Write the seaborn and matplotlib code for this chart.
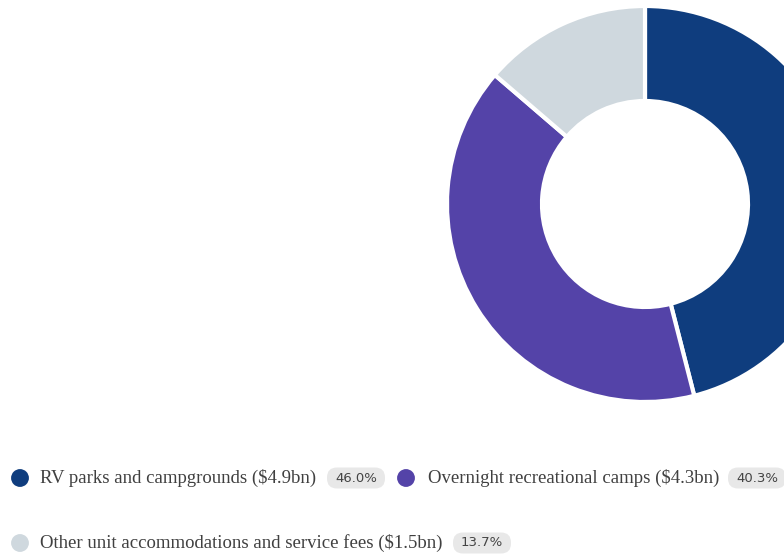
import matplotlib
matplotlib.use("Agg")
import matplotlib.pyplot as plt
from matplotlib.patches import FancyBboxPatch
import seaborn as sns

categories = ["RV parks and campgrounds", "Overnight recreational camps",
              "Other unit accommodations and service fees"]
revenue_bn = [4.9, 4.3, 1.5]
shares = [46.0, 40.3, 13.7]
colors = ["#0f3d7e", "#5443a8", "#cfd8de"]

sns.set_style("white")
plt.rcParams['font.family'] = ['Liberation Serif', 'DejaVu Serif']

W, H = 784, 554
fig = plt.figure(figsize=(W / 100, H / 100), dpi=100)
ax = fig.add_axes([0, 0, 1, 1])
ax.set_xlim(0, W)
ax.set_ylim(0, H)
ax.set_aspect("equal")
ax.axis("off")

def Y(y):
    return H - y

ax.pie(shares, colors=colors, startangle=90, counterclock=False,
       center=(645, Y(204)), radius=198,
       wedgeprops=dict(width=95, edgecolor="white", linewidth=3))
ax.set_xlim(0, W)
ax.set_ylim(0, H)

# legend entries: (marker x, y, text x, badge center x)
positions = [(20, 478, 40, 356), (406, 478, 428, 757), (20, 543, 40, 482)]
bw, bh = 58, 21
for (mx, my, tx, bx), cat, rev, sh, col in zip(positions, categories, revenue_bn, shares, colors):
    ax.scatter([mx], [Y(my)], s=165, color=col, edgecolor="none", zorder=3)
    ax.text(tx, Y(my), f"{cat} (${rev}bn)", fontsize=13.5, color="#404040",
            va="center", ha="left")
    ax.add_patch(FancyBboxPatch((bx - bw / 2 + 8, Y(my) - bh / 2 + 8), bw - 16, bh - 16,
                                boxstyle="round,pad=8,rounding_size=10",
                                facecolor="#e8e8e8", edgecolor="none", zorder=2))
    ax.text(bx, Y(my), f"{sh:.1f}%", fontsize=9.5, color="#444444",
            va="center", ha="center", family=["DejaVu Sans"], zorder=3)

fig.savefig("out.png", dpi=100, facecolor="white")
